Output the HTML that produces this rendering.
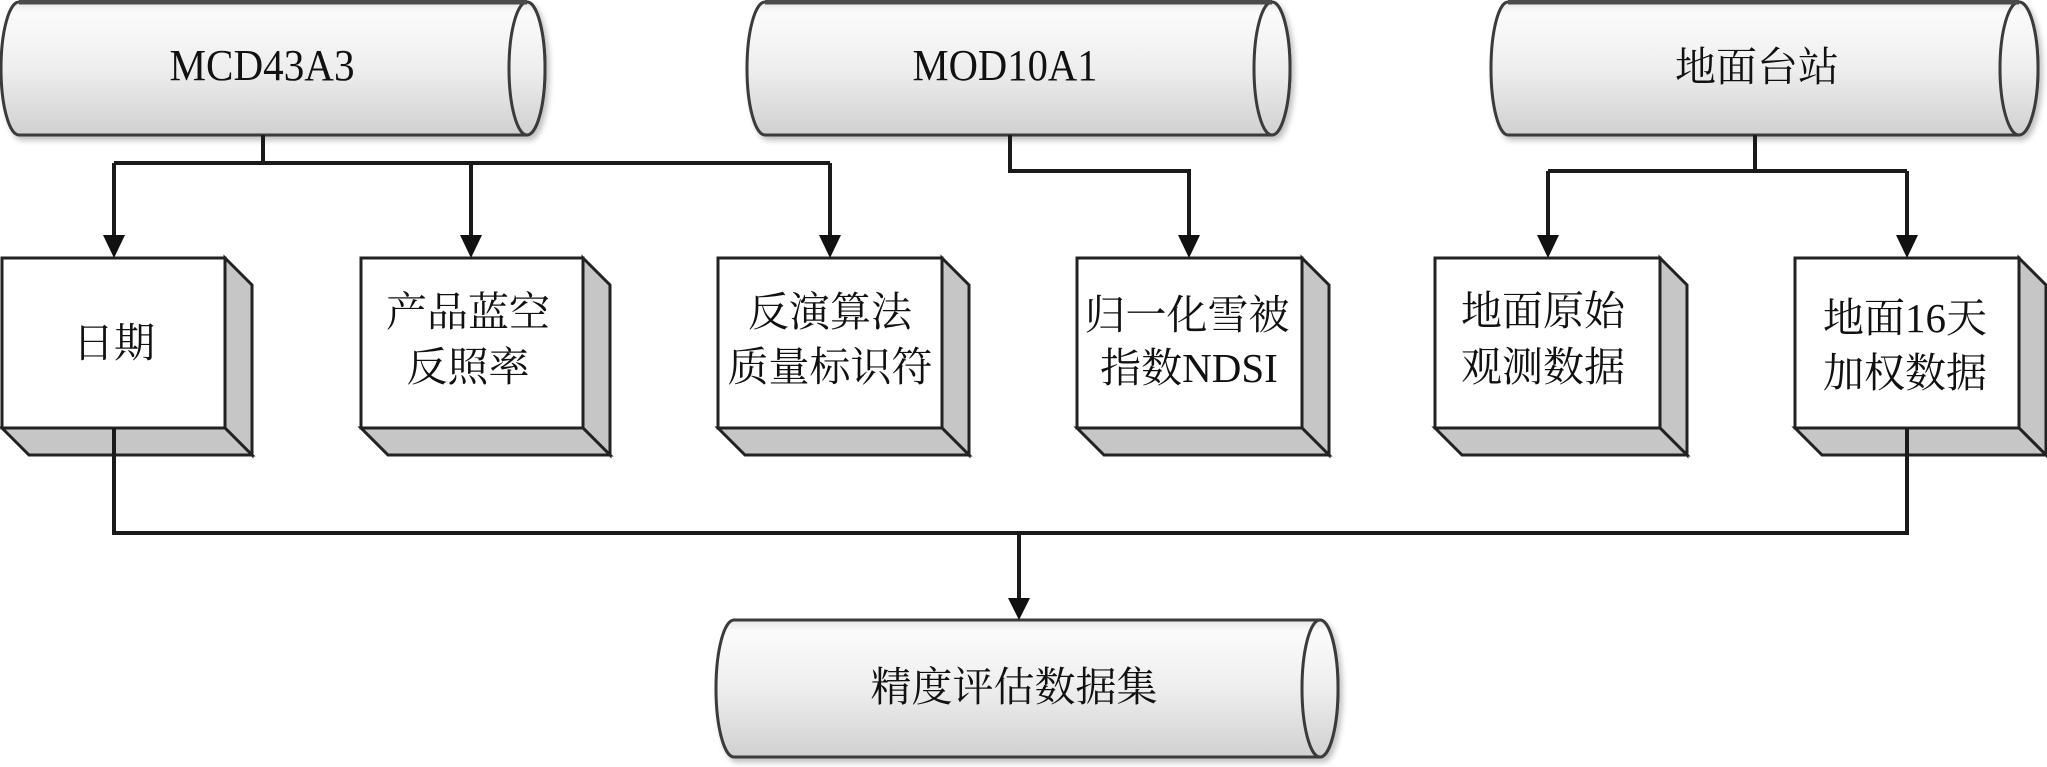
<!DOCTYPE html>
<html><head><meta charset="utf-8"><style>
html,body{margin:0;padding:0;background:#fff;}
svg{display:block;}
text{font-family:"Liberation Serif","Noto Serif CJK SC","Noto Sans CJK SC",serif;font-size:41px;fill:#111;}
</style></head><body>
<svg width="2047" height="767" viewBox="0 0 2047 767" xmlns="http://www.w3.org/2000/svg">
<defs>
<linearGradient id="cg" x1="0" y1="0" x2="0" y2="1">
<stop offset="0" stop-color="#e6e6e6"/>
<stop offset="0.08" stop-color="#fbfbfb"/>
<stop offset="0.5" stop-color="#eeeeee"/>
<stop offset="1" stop-color="#d0d0d0"/>
</linearGradient>
<filter id="sh" x="-5%" y="-10%" width="110%" height="130%">
<feGaussianBlur in="SourceAlpha" stdDeviation="3"/>
<feOffset dx="3" dy="4"/>
<feComponentTransfer><feFuncA type="linear" slope="0.25"/></feComponentTransfer>
<feMerge><feMergeNode/><feMergeNode in="SourceGraphic"/></feMerge>
</filter>
</defs>

<!-- Cylinders -->
<g stroke="#3a3a3a" stroke-width="3" fill="url(#cg)">
<g filter="url(#sh)">
<path d="M19 2 H527 A18 66.5 0 0 1 527 135 H19 A18 66.5 0 0 1 19 2 Z"/>
<ellipse cx="527" cy="68.5" rx="18" ry="66.5"/>
</g>
<g filter="url(#sh)">
<path d="M765 2 H1272 A18 66.5 0 0 1 1272 135 H765 A18 66.5 0 0 1 765 2 Z"/>
<ellipse cx="1272" cy="68.5" rx="18" ry="66.5"/>
</g>
<g filter="url(#sh)">
<path d="M1508 2 H2019 A19 66.5 0 0 1 2019 135 H1508 A17 66.5 0 0 1 1508 2 Z"/>
<ellipse cx="2019" cy="68.5" rx="19" ry="66.5"/>
</g>
<g filter="url(#sh)">
<path d="M734 620 H1320 A18 68.5 0 0 1 1320 757 H734 A18 68.5 0 0 1 734 620 Z"/>
<ellipse cx="1320" cy="688.5" rx="18" ry="68.5"/>
</g>
</g>
<g stroke="#4a4a4a" stroke-width="5" fill="none">
<line x1="19" y1="2" x2="527" y2="2"/>
<line x1="765" y1="2" x2="1272" y2="2"/>
<line x1="1508" y1="2" x2="2019" y2="2"/>
</g>

<!-- Boxes -->
<g stroke="#222" stroke-width="3" stroke-linejoin="miter">
<g>
<rect x="2" y="258" width="223" height="170" fill="#fff"/>
<polygon points="225,258 252,285 252,455 225,428" fill="#c6c6c6"/>
<polygon points="2,428 225,428 252,455 29,455" fill="#c6c6c6"/>
</g>
<g>
<rect x="361" y="258" width="222" height="170" fill="#fff"/>
<polygon points="583,258 610,285 610,455 583,428" fill="#c6c6c6"/>
<polygon points="361,428 583,428 610,455 388,455" fill="#c6c6c6"/>
</g>
<g>
<rect x="718" y="258" width="224" height="170" fill="#fff"/>
<polygon points="942,258 969,285 969,455 942,428" fill="#c6c6c6"/>
<polygon points="718,428 942,428 969,455 745,455" fill="#c6c6c6"/>
</g>
<g>
<rect x="1077" y="258" width="225" height="170" fill="#fff"/>
<polygon points="1302,258 1329,285 1329,455 1302,428" fill="#c6c6c6"/>
<polygon points="1077,428 1302,428 1329,455 1104,455" fill="#c6c6c6"/>
</g>
<g>
<rect x="1435" y="258" width="225" height="170" fill="#fff"/>
<polygon points="1660,258 1687,285 1687,455 1660,428" fill="#c6c6c6"/>
<polygon points="1435,428 1660,428 1687,455 1462,455" fill="#c6c6c6"/>
</g>
<g>
<rect x="1795" y="258" width="224" height="170" fill="#fff"/>
<polygon points="2019,258 2046,285 2046,455 2019,428" fill="#c6c6c6"/>
<polygon points="1795,428 2019,428 2046,455 1822,455" fill="#c6c6c6"/>
</g>
</g>

<!-- Connectors -->
<g stroke="#1a1a1a" stroke-width="4" fill="none">
<path d="M263 135 V163"/>
<path d="M114 163 H830"/>
<path d="M114 163 V240"/>
<path d="M471 163 V240"/>
<path d="M830 163 V240"/>
<path d="M1010 135 V171 H1189 V240"/>
<path d="M1755 135 V171"/>
<path d="M1548 171 H1907"/>
<path d="M1548 171 V240"/>
<path d="M1907 171 V240"/>
<path d="M114 428 V533 H1907 V428"/>
<path d="M1019 533 V602"/>
</g>
<g fill="#111">
<polygon points="103,235 125,235 114,258"/>
<polygon points="460,235 482,235 471,258"/>
<polygon points="819,235 841,235 830,258"/>
<polygon points="1178,235 1200,235 1189,258"/>
<polygon points="1537,235 1559,235 1548,258"/>
<polygon points="1896,235 1918,235 1907,258"/>
<polygon points="1008,598 1030,598 1019,620"/>
</g>

<!-- Labels -->
<text x="262" y="80" text-anchor="middle" style="font-size:44px" textLength="185" lengthAdjust="spacingAndGlyphs">MCD43A3</text>
<text x="1005" y="80" text-anchor="middle" style="font-size:44px" textLength="185" lengthAdjust="spacingAndGlyphs">MOD10A1</text>
<text x="1757" y="67" text-anchor="middle" dominant-baseline="central">地面台站</text>

<text x="114" y="343" text-anchor="middle" dominant-baseline="central">日期</text>
<text x="468" y="312" text-anchor="middle" dominant-baseline="central">产品蓝空</text>
<text x="468" y="367" text-anchor="middle" dominant-baseline="central">反照率</text>
<text x="830" y="312" text-anchor="middle" dominant-baseline="central">反演算法</text>
<text x="830" y="367" text-anchor="middle" dominant-baseline="central">质量标识符</text>
<text x="1187" y="315" text-anchor="middle" dominant-baseline="central">归一化雪被</text>
<text x="1189" y="368" text-anchor="middle" dominant-baseline="central">指数NDSI</text>
<text x="1543" y="311" text-anchor="middle" dominant-baseline="central">地面原始</text>
<text x="1543" y="367" text-anchor="middle" dominant-baseline="central">观测数据</text>
<text x="1905" y="318" text-anchor="middle" dominant-baseline="central">地面16天</text>
<text x="1905" y="373" text-anchor="middle" dominant-baseline="central">加权数据</text>

<text x="1014" y="687" text-anchor="middle" dominant-baseline="central">精度评估数据集</text>
</svg>
</body></html>
